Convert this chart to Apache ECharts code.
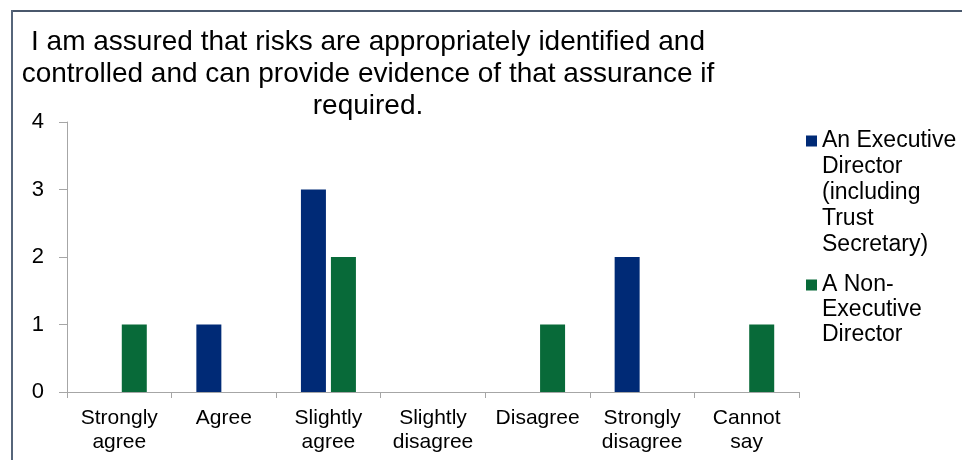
<!DOCTYPE html>
<html>
<head>
<meta charset="utf-8">
<script src="https://cdn.jsdelivr.net/npm/echarts@6/dist/echarts.min.js"></script>
<style>
html,body{margin:0;padding:0;background:#fff;}
#c{width:962px;height:460px;}
</style>
</head>
<body>
<div id="c"></div>
<script>
const titleText = 'I am assured that risks are appropriately identified and\ncontrolled and can provide evidence of that assurance if\nrequired.';
const categories = ['Strongly agree', 'Agree', 'Slightly agree', 'Slightly disagree', 'Disagree', 'Strongly disagree', 'Cannot say'];
const seriesNames = ['An Executive\nDirector\n(including\nTrust\nSecretary)', 'A Non-\nExecutive\nDirector'];
const executiveValues = [0, 1, 3, 0, 0, 2, 0];
const nonExecutiveValues = [1, 0, 2, 0, 1, 0, 1];
const yTicks = [0, 1, 2, 3, 4];

const font = 'Liberation Sans, Arial, sans-serif';
const blue = '#002a76';
const green = '#086a39';
const axisGray = '#a6a6a6';

// square icon sitting on the first text line: a tall icon box whose visible square is at its top
function topIcon(h) {
  return 'path://M0,0H11V11H0Z M0,' + (h - 0.01) + 'H0.01V' + h + 'H0Z';
}

const chart = echarts.init(document.getElementById('c'), null, {renderer: 'canvas'});
chart.setOption({
  backgroundColor: '#ffffff',
  animation: false,
  textStyle: {fontFamily: font},
  title: {
    text: titleText,
    left: 368,
    top: 26,
    padding: 0,
    textAlign: 'center',
    textStyle: {fontFamily: font, fontSize: 28, fontWeight: 'normal', color: '#000', lineHeight: 32}
  },
  graphic: [
    {type: 'line', shape: {x1: 11, y1: 11, x2: 962, y2: 11}, style: {stroke: '#4a586c', lineWidth: 2}, silent: true},
    {type: 'line', shape: {x1: 12, y1: 10, x2: 12, y2: 460}, style: {stroke: '#56657a', lineWidth: 2}, silent: true}
  ],
  legend: [
    {
      orient: 'vertical', left: 806, top: 128, padding: 0,
      itemWidth: 11, itemHeight: 115, icon: topIcon(115), symbolKeepAspect: false,
      data: [seriesNames[0]],
      textStyle: {fontFamily: font, fontSize: 23, color: '#000', lineHeight: 26}
    },
    {
      orient: 'vertical', left: 806, top: 272.5, padding: 0,
      itemWidth: 11, itemHeight: 61, icon: topIcon(61), symbolKeepAspect: false,
      data: [seriesNames[1]],
      textStyle: {fontFamily: font, fontSize: 23, color: '#000', lineHeight: 25}
    }
  ],
  grid: {left: 67, right: 163, top: 122, bottom: 68, containLabel: false},
  xAxis: {
    type: 'category',
    data: categories,
    axisLine: {lineStyle: {color: axisGray, width: 1}},
    axisTick: {show: true, length: 6, alignWithLabel: false, lineStyle: {color: axisGray}},
    axisLabel: {
      interval: 0, margin: 14, fontFamily: font, fontSize: 21, color: '#000', lineHeight: 24,
      formatter: v => v.replace(' ', '\n')
    },
    splitLine: {show: false}
  },
  yAxis: {
    type: 'value',
    min: yTicks[0], max: yTicks[yTicks.length - 1], interval: 1,
    axisLine: {show: true, lineStyle: {color: axisGray, width: 1}},
    axisTick: {show: true, length: 8, lineStyle: {color: axisGray}},
    axisLabel: {margin: 23, fontFamily: font, fontSize: 22, color: '#000'},
    splitLine: {show: false}
  },
  series: [
    {name: seriesNames[0], type: 'bar', data: executiveValues, barWidth: 25, barGap: '20%', itemStyle: {color: blue}},
    {name: seriesNames[1], type: 'bar', data: nonExecutiveValues, barWidth: 25, barGap: '20%', itemStyle: {color: green}}
  ]
});
</script>
</body>
</html>
